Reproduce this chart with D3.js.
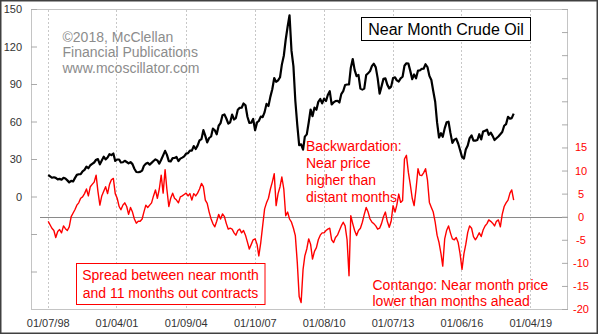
<!DOCTYPE html>
<html><head><meta charset="utf-8">
<script src="https://cdn.jsdelivr.net/npm/d3@7"></script>
<style>
body{margin:0;background:#fff}
svg{display:block}
text{font-family:"Liberation Sans",Arial,sans-serif}
</style>
</head><body>
<svg id="c" width="600" height="335"></svg>
<script>
// ---- data (monthly, starting Jan 1998) ----
const startYear = 1998;
const oilPrice = [
17.2,16.1,15.0,15.4,14.9,13.7,14.1,13.4,15.0,14.4,12.9,11.3,
12.5,12.0,14.7,17.3,17.8,17.9,20.1,21.3,23.9,22.6,25.0,26.1,
27.2,29.4,29.9,25.7,28.8,31.8,29.7,31.2,33.9,33.1,34.4,28.4,
29.6,29.6,27.2,27.4,28.6,27.6,26.5,27.5,25.9,22.2,19.6,19.4,
19.7,20.7,24.5,26.2,27.0,25.5,26.9,28.4,29.7,28.9,26.3,29.4,
32.9,36.5,33.5,28.3,28.1,30.7,30.8,31.6,28.3,30.3,31.1,32.1,
34.3,34.7,36.7,36.7,40.3,38.0,40.7,44.9,45.9,53.1,48.5,43.3,
46.8,48.0,54.3,53.0,49.8,56.6,58.7,65.0,65.6,62.4,58.3,59.4,
65.5,61.6,62.7,69.4,70.9,71.0,74.4,73.0,63.8,58.9,59.1,62.0,
53.0,59.3,60.4,63.9,63.5,67.5,74.1,72.4,79.9,85.8,94.8,91.7,
92.9,95.4,105.5,112.6,125.4,136.0,145.0,116.7,104.1,76.6,57.3,41.1,
41.7,37.5,47.9,49.7,59.0,69.6,64.2,71.1,69.4,75.7,78.0,74.5,
78.3,76.4,81.2,84.3,73.7,75.3,76.3,76.6,75.2,81.9,84.3,89.2,
89.6,89.7,102.9,110.0,101.3,96.3,97.3,86.3,85.5,86.3,97.2,98.6,
100.3,104.5,106.2,103.3,94.7,82.3,87.9,94.1,94.5,89.5,86.5,87.9,
94.8,95.3,92.9,92.0,94.5,95.8,104.6,106.6,106.3,100.5,93.9,97.6,
94.6,100.8,100.8,102.1,102.2,105.8,103.6,96.5,93.2,84.4,75.8,59.3,
47.2,50.6,47.8,54.5,59.3,59.8,50.9,42.9,45.5,46.2,42.4,37.2,
31.7,30.3,37.6,40.8,46.7,48.8,44.7,44.7,45.2,49.8,45.7,52.0,
52.5,53.5,49.3,51.1,48.5,45.2,46.6,48.0,49.8,51.6,56.6,57.9,
63.7,62.2,62.7,66.3
];
const spread = [
-1.0,-1.8,-2.5,-3.0,-4.5,-3.2,-2.8,-3.5,-2.0,-2.6,-3.0,-2.2,
0.0,0.8,1.5,2.5,3.0,4.0,4.3,5.0,6.0,4.5,6.5,7.0,
7.5,9.0,5.5,2.5,4.5,5.5,6.5,5.0,7.0,8.0,8.3,5.0,
4.0,2.2,1.5,2.5,3.0,2.2,0.5,2.0,1.0,-0.5,-1.4,-1.0,
-1.0,-0.5,1.0,2.5,2.0,2.5,3.0,4.5,5.8,4.0,6.0,9.0,
5.1,10.2,6.0,2.2,4.0,5.1,4.0,3.6,3.0,4.3,4.5,4.8,
5.1,4.5,5.0,3.6,5.0,4.5,5.1,6.0,7.2,6.5,3.6,2.9,
1.0,-0.5,-1.5,-2.2,-1.0,0.5,-0.5,0.6,0.0,-1.5,-2.7,-2.5,
-2.7,-3.5,-4.0,-3.0,-2.7,-3.5,-3.0,-4.0,-5.5,-7.0,-6.0,-5.0,
-4.8,-6.0,-8.5,-5.6,-2.0,1.7,3.0,4.0,6.0,7.5,9.3,2.4,
5.0,6.5,8.6,6.0,0.2,1.0,-0.5,-1.2,-2.5,-4.1,-9.9,-17.3,
-18.6,-11.4,-8.5,-7.0,-4.8,-6.0,-9.2,-7.5,-6.7,-5.0,-4.0,-3.5,
-3.5,-3.0,-2.7,-2.5,-5.0,-5.6,-4.5,-4.0,-3.0,-2.0,-1.2,-2.0,
-5.0,-12.8,0.2,-1.5,-3.0,-4.1,-3.0,-2.5,-1.2,0.5,2.0,1.0,
-0.5,-1.2,-1.5,-2.0,-2.7,-2.5,-1.5,0.0,1.0,-1.0,-2.3,-1.0,
2.4,1.0,2.5,4.9,3.1,3.5,12.5,13.3,9.6,7.0,4.0,2.4,
6.0,10.4,9.0,8.9,9.5,10.4,8.0,3.1,2.0,1.0,-1.2,-4.0,
-5.6,-8.0,-10.7,-4.8,-3.0,-2.0,-3.5,-4.8,-5.0,-4.5,-5.6,-8.0,
-11.4,-8.0,-6.0,-3.4,-2.0,-2.5,-4.3,-5.0,-4.3,-3.5,-4.3,-2.9,
-2.0,-1.5,-0.7,-1.0,-1.4,-2.0,-1.0,-0.7,-2.2,0.5,2.2,3.0,
3.6,5.1,5.8,3.6
];
const dateTickLabels = ["01/07/98","01/04/01","01/09/04","01/10/07","01/08/10","01/07/13","01/06/16","01/04/19"];
const leftTickValues = [150,120,90,60,30,0,-30,-60];
const rightTickValues = [45,40,35,30,25,20,15,10,5,0,-5,-10,-15,-20];
const titleText = "Near Month Crude Oil";
const creditLines = ["\u00a92018, McClellan","Financial Publications","www.mcoscillator.com"];
const backwardationLines = ["Backwardation:","Near price","higher than","distant months"];
const contangoLines = ["Contango: Near month price","lower than months ahead"];
const spreadNoteLines = ["Spread between near month","and 11 months out contracts"];

// ---- layout ----
const L = 31, R = 568, T = 9, B = 309;
const svg = d3.select("#c");
const parse = d3.timeParse("%m/%d/%y");
const tickDates = dateTickLabels.map(parse);
const x = d3.scaleTime().domain([tickDates[0], tickDates[tickDates.length-1]]).range([47.7, 530.3]);
const yOil = d3.scaleLinear().domain([-90,150]).range([B,T]);
const ySpr = d3.scaleLinear().domain([-20,45]).range([B,T]);
const dateOf = i => new Date(startYear, i, 15);

// outer frame
svg.append("rect").attr("x",0.75).attr("y",0.75).attr("width",596.5).attr("height",332.5)
  .attr("fill","#fff").attr("stroke","#404040").attr("stroke-width",1.5);

// plot box
svg.append("rect").attr("x",L+0.5).attr("y",T+0.5).attr("width",R-L-1).attr("height",B-T)
  .attr("fill","#fff").attr("stroke","#c4c4c4").attr("stroke-width",1);

// vertical gridlines
svg.append("g").selectAll("line").data(tickDates).join("line")
  .attr("x1",d=>Math.round(x(d))+0.5).attr("x2",d=>Math.round(x(d))+0.5)
  .attr("y1",T+1).attr("y2",B)
  .attr("stroke","#c8c8c8").attr("stroke-dasharray","2,2");

// zero line of spread
svg.append("line").attr("x1",40).attr("x2",R).attr("y1",Math.round(ySpr(0))+0.5).attr("y2",Math.round(ySpr(0))+0.5)
  .attr("stroke","#8a8a8a").attr("stroke-width",1);

// axes
const gx = svg.append("g").attr("transform",`translate(0,${B})`)
  .call(d3.axisBottom(x).tickValues(tickDates).tickFormat(d3.timeFormat("%m/%d/%y")).tickSize(0).tickPadding(10));
gx.select(".domain").remove();
gx.selectAll("text").attr("fill","#333").style("font-size","11px");

const gl = svg.append("g").attr("transform",`translate(${L},0)`)
  .call(d3.axisLeft(yOil).tickValues(leftTickValues).tickFormat(d=> d>=0 ? d : "").tickSizeInner(-6).tickSizeOuter(0).tickPadding(9));
gl.select(".domain").remove();
gl.selectAll("line").attr("stroke","#aaa");
gl.selectAll("text").attr("fill","#333").style("font-size","11px");

const gr = svg.append("g").attr("transform",`translate(${R},0)`)
  .call(d3.axisRight(ySpr).tickValues(rightTickValues).tickFormat(d=> d<=15 ? d : "").tickSizeInner(-6).tickSizeOuter(0).tickPadding(9));
gr.select(".domain").remove();
gr.selectAll("line").attr("stroke","#aaa");
gr.selectAll("text").attr("fill","#ff0000").style("font-size","11px").attr("x",13).attr("text-anchor","middle");

// lines
svg.append("path").datum(spread)
  .attr("fill","none").attr("stroke","#ff0000").attr("stroke-width",1.4).attr("stroke-linejoin","round")
  .attr("d", d3.line().x((d,i)=>x(dateOf(i))).y(d=>ySpr(d)));
svg.append("path").datum(oilPrice)
  .attr("fill","none").attr("stroke","#000").attr("stroke-width",2.2).attr("stroke-linejoin","round")
  .attr("d", d3.line().x((d,i)=>x(dateOf(i))).y(d=>yOil(d)));

// title box
svg.append("rect").attr("x",361.5).attr("y",17.5).attr("width",169).attr("height",23)
  .attr("fill","#fff").attr("stroke","#000").attr("stroke-width",1);
svg.append("text").attr("x",446).attr("y",35).attr("text-anchor","middle")
  .style("font-size","16px").attr("fill","#000").text(titleText);

// credit
svg.append("g").selectAll("text").data(creditLines).join("text")
  .attr("x",62.5).attr("y",(d,i)=>41.5+i*15.5).style("font-size","14px").attr("fill","#8c8c8c").text(d=>d);

// backwardation note
svg.append("g").selectAll("text").data(backwardationLines).join("text")
  .attr("x",306).attr("y",(d,i)=>150.5+i*17).style("font-size","14px").attr("fill","#ff0000").text(d=>d);

// contango note
svg.append("g").selectAll("text").data(contangoLines).join("text")
  .attr("x",372.5).attr("y",(d,i)=>289.5+i*16.5).style("font-size","14px").attr("fill","#ff0000").text(d=>d);

// spread note box
svg.append("rect").attr("x",76.5).attr("y",263.5).attr("width",188.5).attr("height",41)
  .attr("fill","#fff").attr("stroke","#ff0000").attr("stroke-width",1);
svg.append("g").selectAll("text").data(spreadNoteLines).join("text")
  .attr("x",170.5).attr("y",(d,i)=>279.5+i*18).attr("text-anchor","middle")
  .style("font-size","14px").attr("fill","#ff0000").text(d=>d);
</script>
</body></html>
